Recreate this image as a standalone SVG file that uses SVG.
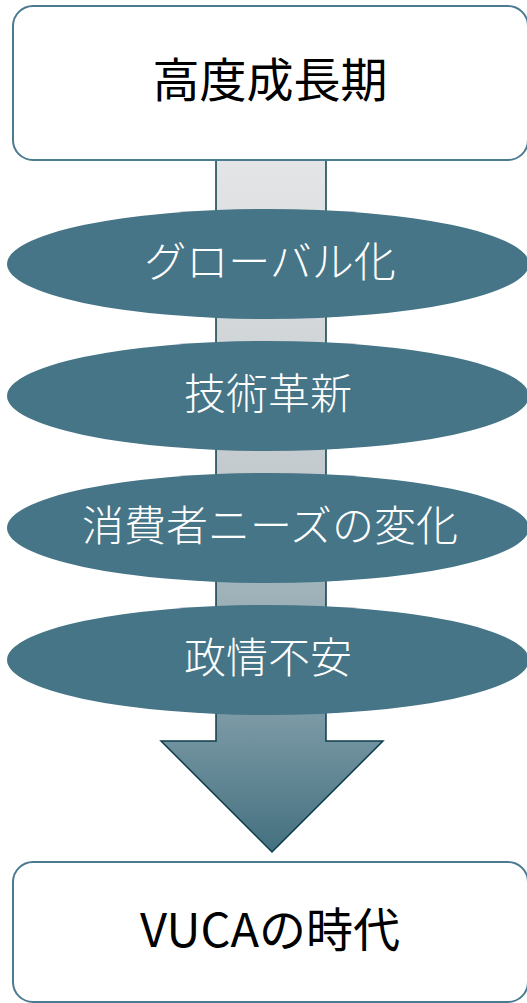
<svg xmlns="http://www.w3.org/2000/svg" width="527" height="1003" viewBox="0 0 527 1003">
<style>
.box{fill:#ffffff;stroke:#4b7b90;stroke-width:2}
.ell{fill:#467587}
.t{font-family:"Noto Sans CJK JP","Noto Sans",sans-serif;text-anchor:middle;dominant-baseline:central}
.dark{fill:#000000;font-size:47px}
.light{fill:#ffffff;font-size:42px;font-weight:300}
</style>
<defs>
<linearGradient id="ag" gradientUnits="userSpaceOnUse" x1="0" y1="160" x2="0" y2="852">
<stop offset="0" stop-color="#e4e5e6"/>
<stop offset="0.45" stop-color="#c3cacd"/>
<stop offset="0.8" stop-color="#7c9aa6"/>
<stop offset="1" stop-color="#44707f"/>
</linearGradient>
</defs>
<g id="connectors">
<path d="M216,160 L326,160 L326,741 L383,741 L272,852 L161,741 L216,741 Z" fill="url(#ag)" stroke="#0d3c4c" stroke-width="1.5"/>
</g>
<g id="node-top">
<rect class="box" x="13" y="6" width="515" height="154" rx="20"/>
<text class="t dark" x="270" y="76">高度成長期</text>
</g>
<g id="node-global">
<ellipse class="ell" cx="268" cy="264" rx="261" ry="55"/>
<text class="t light" x="270" y="258">グローバル化</text>
</g>
<g id="node-tech">
<ellipse class="ell" cx="268" cy="396" rx="261" ry="55"/>
<text class="t light" x="268" y="390">技術革新</text>
</g>
<g id="node-needs">
<ellipse class="ell" cx="268" cy="528" rx="261" ry="55"/>
<text class="t light" x="270" y="522">消費者ニーズの変化</text>
</g>
<g id="node-politics">
<ellipse class="ell" cx="268" cy="660" rx="261" ry="55"/>
<text class="t light" x="268" y="654">政情不安</text>
</g>
<g id="node-vuca">
<rect class="box" x="13" y="862" width="515" height="140" rx="20"/>
<text class="t dark" x="270" y="926">VUCAの時代</text>
</g>
</svg>
